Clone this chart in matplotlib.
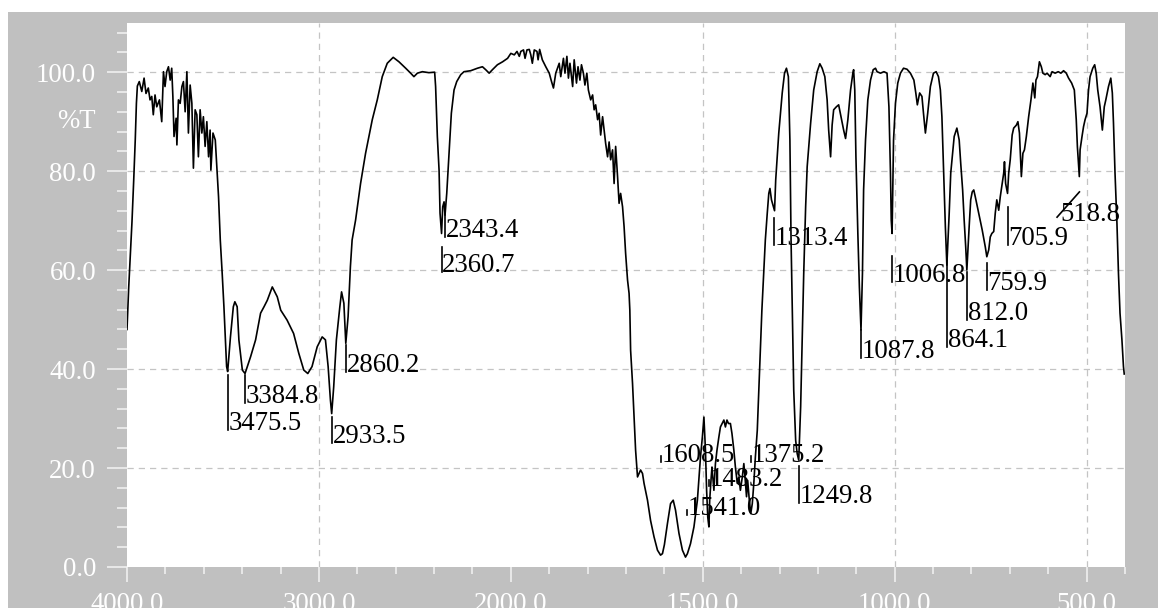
import numpy as np
import matplotlib
matplotlib.use("Agg")
import matplotlib.pyplot as plt
from matplotlib.patches import Rectangle
from matplotlib.ticker import FixedLocator, FixedFormatter
from matplotlib.transforms import blended_transform_factory

# ---------------- spectrum (wavenumber in cm-1, transmittance in %T) ----------------
wavenumber = [
    4000, 3991, 3983, 3974, 3965, 3957, 3951, 3946, 3936, 3923, 3911, 3901, 3889, 3880,
    3871, 3863, 3854, 3845, 3831, 3819, 3810, 3802, 3793, 3784, 3775, 3767, 3761, 3755,
    3744, 3740, 3732, 3723, 3714, 3706, 3697, 3688, 3680, 3671, 3662, 3654, 3645, 3636,
    3628, 3619, 3610, 3602, 3593, 3584, 3575, 3567, 3563, 3552, 3540, 3532, 3523, 3514,
    3504, 3495, 3481, 3475.5, 3461, 3446, 3438, 3426, 3417, 3399, 3385, 3356, 3330, 3304,
    3286, 3269, 3243, 3217, 3199, 3166, 3132, 3105, 3079, 3058, 3036, 3009, 2983, 2966,
    2952, 2940, 2933.5, 2923, 2909, 2891, 2882, 2870, 2860, 2848, 2836, 2827, 2809, 2783,
    2757, 2722, 2696, 2670, 2644, 2613, 2583, 2548, 2522, 2505, 2487, 2461, 2427, 2397,
    2392, 2383, 2374, 2369, 2361, 2355, 2348, 2343, 2334, 2322, 2310, 2296, 2282, 2261,
    2244, 2209, 2174, 2148, 2131, 2113, 2096, 2070, 2043, 2017, 2000, 1991, 1984, 1978,
    1974, 1967, 1963, 1958, 1952, 1948, 1944, 1939, 1932, 1929, 1925, 1918, 1909, 1900,
    1894, 1889, 1883, 1874, 1870, 1863, 1859, 1854, 1850, 1846, 1839, 1835, 1829, 1825,
    1820, 1816, 1811, 1807, 1802, 1798, 1792, 1787, 1783, 1779, 1774, 1770, 1766, 1761,
    1757, 1753, 1748, 1744, 1740, 1735, 1731, 1727, 1722, 1718, 1714, 1709, 1705, 1701,
    1696, 1692, 1690, 1688, 1683, 1679, 1675, 1670, 1666, 1662, 1657, 1653, 1644, 1636,
    1627, 1618, 1610, 1605, 1600, 1592, 1584, 1577, 1571, 1562, 1553, 1545, 1540, 1532,
    1523, 1514, 1506, 1501, 1497, 1493, 1490, 1487, 1484, 1482, 1478, 1476, 1471, 1467,
    1463, 1458, 1454, 1445, 1441, 1437, 1433, 1428, 1424, 1419, 1415, 1410, 1406, 1402,
    1397, 1393, 1390, 1386, 1383, 1378, 1375, 1371, 1367, 1363, 1358, 1354, 1350, 1346,
    1341, 1337, 1332, 1328, 1325, 1321, 1313, 1310, 1302, 1293, 1287, 1282, 1277, 1273,
    1270, 1267, 1263, 1258, 1254, 1250, 1245, 1241, 1237, 1232, 1228, 1219, 1211, 1202,
    1195, 1189, 1182, 1176, 1172, 1167, 1163, 1159, 1152, 1146, 1140, 1133, 1128, 1122,
    1115, 1109, 1107, 1104, 1101, 1096, 1092, 1089, 1087.8, 1084, 1081, 1076, 1070, 1063,
    1056, 1050, 1046, 1037, 1028, 1020, 1015, 1011, 1009, 1006.8, 1003, 998, 992, 985,
    977, 968, 959, 950, 945, 941, 935, 929, 925, 920, 914, 907, 899, 892,
    886, 881, 877, 873, 868, 864.1, 858, 854, 845, 838, 832, 828, 823, 819,
    815, 812, 806, 802, 798, 794, 790, 781, 772, 764, 760, 755, 751, 747,
    742, 738, 734, 729, 725, 721, 716, 714, 711, 706, 703, 699, 694, 690,
    683, 679, 675, 670, 666, 662, 657, 651, 645, 640, 635, 632, 628, 623,
    618, 614, 608, 603, 595, 590, 582, 574, 567, 560, 553, 547, 539, 532,
    527, 524, 519, 517, 512, 508, 504, 499, 495, 491, 484, 479, 475, 471,
    465, 459, 454, 450, 443, 437, 433, 430, 426, 421, 417, 413, 408, 404,
    402,
]
transmittance = [
    48.0, 56.6, 62.7, 69.8, 78.2, 86.3, 93.7, 97.2, 98.1, 96.1, 98.8, 95.7, 96.8, 94.4,
    95.1, 91.4, 95.4, 93.0, 94.4, 90.0, 100.1, 97.1, 100.1, 101.1, 98.4, 100.8, 95.1, 87.0,
    90.7, 85.3, 94.4, 93.7, 97.1, 98.1, 92.0, 100.1, 87.7, 97.4, 93.7, 80.6, 92.4, 91.4,
    82.9, 92.4, 87.7, 91.0, 85.0, 90.0, 82.9, 88.3, 80.2, 87.7, 86.3, 80.9, 74.8, 66.1,
    59.3, 52.6, 40.5, 39.5, 46.5, 52.6, 53.6, 52.6, 45.9, 39.8, 39.1, 42.5, 45.9, 51.3,
    52.6, 53.9, 56.6, 54.6, 51.9, 49.9, 47.2, 43.2, 39.8, 39.1, 40.5, 44.5, 46.5, 45.9,
    40.5, 33.7, 31.0, 36.4, 45.9, 52.6, 55.6, 53.3, 45.2, 50.6, 60.7, 66.1, 70.1, 77.5,
    83.6, 90.4, 94.4, 99.1, 101.8, 103.0, 102.1, 100.8, 99.8, 99.1, 99.8, 100.1, 99.9, 100.0,
    97.1, 87.0, 80.2, 71.5, 67.4, 72.8, 73.8, 71.1, 75.5, 83.6, 91.7, 96.4, 98.1, 99.5,
    100.1, 100.3, 100.8, 101.1, 100.5, 99.8, 100.5, 101.5, 102.1, 102.8, 103.8, 103.5, 104.2, 103.2,
    104.2, 104.5, 102.8, 104.5, 104.6, 103.5, 101.8, 104.5, 104.2, 102.5, 104.6, 102.5, 101.1, 99.8,
    98.1, 96.8, 99.8, 101.8, 99.1, 102.8, 99.8, 103.2, 98.8, 101.8, 97.1, 102.5, 97.8, 101.1,
    98.4, 101.5, 99.8, 97.4, 99.8, 96.4, 94.4, 95.4, 92.4, 93.4, 90.4, 91.7, 87.3, 91.0,
    88.3, 85.6, 82.9, 85.9, 82.3, 84.3, 77.5, 85.0, 78.9, 73.5, 75.5, 72.8, 68.8, 63.4,
    58.0, 55.3, 51.9, 43.8, 37.1, 30.3, 23.6, 18.2, 18.9, 19.6, 18.9, 16.9, 13.5, 9.4,
    6.1, 3.4, 2.4, 2.7, 4.5, 8.8, 12.8, 13.5, 11.5, 6.8, 3.4, 2.0, 2.7, 4.7,
    8.1, 13.5, 22.2, 26.3, 30.3, 23.6, 15.5, 10.1, 8.1, 13.5, 18.2, 20.2, 15.5, 20.9,
    23.6, 26.3, 28.3, 29.7, 28.3, 29.7, 29.0, 29.0, 27.0, 23.6, 20.2, 16.9, 18.2, 15.5,
    18.2, 20.9, 18.2, 14.2, 17.5, 12.8, 10.8, 12.8, 16.9, 22.2, 27.6, 35.7, 43.8, 51.9,
    60.0, 66.1, 71.5, 75.5, 76.5, 74.2, 72.0, 78.2, 87.7, 95.8, 99.8, 100.8, 99.1, 86.3,
    66.1, 52.6, 35.7, 25.6, 22.9, 21.6, 32.4, 45.9, 59.3, 72.8, 80.9, 89.7, 96.4, 100.1,
    101.7, 100.8, 99.1, 94.4, 88.3, 82.9, 89.3, 92.4, 93.0, 93.4, 91.0, 88.3, 86.6, 90.4,
    96.4, 99.8, 100.5, 96.4, 82.9, 67.4, 56.6, 50.6, 47.9, 59.3, 76.2, 86.3, 94.4, 98.4,
    100.5, 100.8, 100.1, 99.8, 100.1, 99.8, 93.0, 79.6, 70.1, 67.4, 86.3, 93.7, 97.8, 99.8,
    100.8, 100.6, 99.8, 98.4, 95.8, 93.4, 95.8, 95.1, 91.7, 87.7, 91.7, 97.1, 99.8, 100.1,
    99.1, 96.4, 91.0, 80.9, 68.8, 61.0, 71.5, 79.6, 87.0, 88.7, 86.3, 81.6, 76.2, 70.1,
    64.7, 60.0, 68.8, 74.2, 75.8, 76.2, 74.8, 71.5, 68.1, 64.7, 62.7, 64.1, 66.7, 67.4,
    67.8, 71.5, 74.2, 72.1, 74.8, 76.9, 79.6, 81.9, 77.5, 75.5, 79.6, 82.3, 87.3, 88.7,
    89.3, 90.0, 87.7, 78.9, 83.6, 84.3, 87.0, 91.0, 94.4, 97.8, 94.8, 98.4, 99.1, 102.1,
    101.1, 99.8, 99.5, 99.8, 99.1, 100.1, 99.8, 100.1, 99.8, 100.3, 99.8, 98.8, 97.8, 96.4,
    90.4, 84.9, 78.9, 84.3, 87.0, 89.0, 90.4, 91.7, 96.4, 99.1, 100.8, 101.5, 99.8, 96.4,
    93.0, 88.3, 93.0, 94.4, 97.1, 98.8, 95.8, 89.7, 79.6, 69.5, 59.3, 51.3, 45.9, 40.5,
    39.0,
]

# ---------------- picked peaks ----------------
peak_wavenumbers = [3475.5, 3384.8, 2933.5, 2860.2, 2360.7, 2343.4, 1608.5, 1541.0, 1483.2,
                    1375.2, 1313.4, 1249.8, 1087.8, 1006.8, 864.1, 812.0, 759.9, 705.9]
# marker line top and label baseline (in %T) for each picked peak
peak_line_top = [38.8, 38.8, 30.3, 44.8, 64.7, 71.7, 22.5, 11.5, 17.5,
                 22.5, 70.5, 20.4, 47.9, 62.8, 62.0, 59.6, 61.4, 72.7]
peak_text_base = [27.6, 33.1, 25.0, 39.4, 59.6, 66.6, 21.2, 10.6, 16.3,
                  21.2, 65.0, 12.9, 42.2, 57.6, 44.4, 49.9, 56.0, 65.0]
slanted_peak = 518.8

# ---------------- axes annotation ----------------
x_major = [4000, 3000, 2000, 1500, 1000, 500]
x_major_labels = ["4000.0", "3000.0", "2000.0", "1500.0", "1000.0", "500.0"]
x_minor = list(range(4000, 2000, -200)) + list(range(2000, 399, -100))
y_major = [0, 20, 40, 60, 80, 100]
y_major_labels = ["0.0", "20.0", "40.0", "60.0", "80.0", "100.0"]
y_minor = list(range(0, 110, 4))
x_grid = [3000, 1500, 1000, 500]
y_grid = [20, 40, 60, 80, 100]


def _forward(w):
    # compressed scale above 2000 cm-1 (half the length per wavenumber)
    w = np.asarray(w, dtype=float)
    return np.where(w <= 2000, w / 500.0, 4.0 + (w - 2000.0) / 1000.0)


def _inverse(u):
    u = np.asarray(u, dtype=float)
    return np.where(u <= 4.0, u * 500.0, 2000.0 + (u - 4.0) * 1000.0)


W, H, DPI = 1158, 608, 100
fig = plt.figure(figsize=(W / DPI, H / DPI), dpi=DPI, facecolor="white")
fig.patches.append(Rectangle((8 / W, 0), 1 - 8 / W, (H - 12) / H, transform=fig.transFigure,
                             facecolor="#C0C0C0", edgecolor="none", zorder=-10))

ax = fig.add_axes([127 / W, (H - 567) / H, 998 / W, (567 - 22.7) / H])
ax.set_facecolor("white")
ax.set_xscale("function", functions=(_forward, _inverse))
ax.set_xlim(4000, 400)
ax.set_ylim(0, 110)
for s in ax.spines.values():
    s.set_visible(False)

serif = "Liberation Serif"
fs = 19.3
tick_col = "#F4F4F4"

ax.xaxis.set_major_locator(FixedLocator(x_major))
ax.xaxis.set_major_formatter(FixedFormatter(x_major_labels))
ax.xaxis.set_minor_locator(FixedLocator(x_minor))
ax.yaxis.set_major_locator(FixedLocator(y_major))
ax.yaxis.set_major_formatter(FixedFormatter(y_major_labels))
ax.yaxis.set_minor_locator(FixedLocator(y_minor))
ax.tick_params(axis="x", which="major", direction="out", length=10.8, width=1.1,
               color=tick_col, labelcolor="white", pad=7.5, labelsize=fs)
ax.tick_params(axis="x", which="minor", direction="out", length=4.8, width=1.1, color=tick_col)
ax.tick_params(axis="y", which="major", direction="out", length=14.4, width=1.1,
               color=tick_col, labelcolor="white", pad=7.9, labelsize=fs)
ax.tick_params(axis="y", which="minor", direction="out", length=7.2, width=1.1, color=tick_col)
for lab in ax.get_xticklabels() + ax.get_yticklabels():
    lab.set_family(serif)

trans = blended_transform_factory(ax.transAxes, ax.transData)
ax.text(-0.0311, 90.0, "%T", transform=trans, ha="right", va="center",
        color="white", fontsize=fs, family=serif)

grid_kw = dict(color="#C4C4C4", lw=0.9, dashes=(5, 4), zorder=0)
for g in x_grid:
    ax.axvline(g, **grid_kw)
for g in y_grid:
    ax.axhline(g, **grid_kw)

ax.plot(wavenumber, transmittance, color="black", lw=1.2, zorder=3)

for w, top, base in zip(peak_wavenumbers, peak_line_top, peak_text_base):
    ax.plot([w, w], [top, base], color="black", lw=1.2, zorder=3)
    ax.annotate(f"{w:.1f}", xy=(w, base), xytext=(0.5, 0), textcoords="offset points",
                ha="left", va="baseline", fontsize=fs, family=serif, color="black", zorder=4)

ax.plot([slanted_peak, 577], [75.8, 70.7], color="black", lw=1.2, zorder=3)
ax.annotate(f"{slanted_peak:.1f}", xy=(569, 69.9), ha="left", va="baseline",
            fontsize=fs, family=serif, color="black", zorder=4)

fig.savefig("out.png", dpi=DPI, facecolor=fig.get_facecolor())
